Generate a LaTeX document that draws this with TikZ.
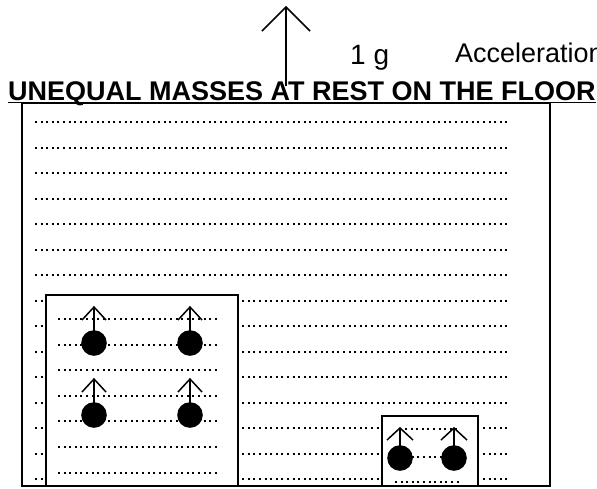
\documentclass[tikz,border=0pt]{standalone}
\usepackage{fontspec}
\setmainfont{Liberation Sans}
\begin{document}
\begin{tikzpicture}[x=1pt,y=-1pt,
  frame/.style={draw=black,line width=1.8pt},
  innerbox/.style={draw=black,fill=white,line width=1.6pt},
  dotrow/.style={draw=black,line width=2pt,dash pattern=on 2pt off 3.6pt},
  shaft/.style={draw=black,line width=1.5pt},
  mass/.style={fill=black},
  label/.style={inner sep=0pt,anchor=base west}]
\clip (0,0) rectangle (597,488);
\useasboundingbox (0,0) rectangle (597,488);

% acceleration arrow and its labels
\coordinate (atip) at (286,7);
\coordinate (abase) at (286,86);
\draw[shaft] (abase) -- (atip);
\draw[shaft] (262,31) -- (atip) -- (310,31);
\node[label,font=\fontsize{28}{32}\selectfont] (g) at (350,64) {1 g};
\node[label,font=\fontsize{27}{31}\selectfont] (acc) at (455,62) {Acceleration};

% title
\node[label,font=\fontsize{27}{30}\selectfont\bfseries] (title) at (8,100)
  {UNEQUAL MASSES AT REST ON THE FLOOR};
\draw[line width=1.6pt] ([yshift=-2.5pt]title.base west) -- ([yshift=-2.5pt]title.base east);

% ruled lines of the floor frame
\foreach \k in {0,...,14}
  \draw[dotrow] (35,{122+25.5*\k}) -- (510,{122+25.5*\k});

% large mass block
\fill[white] (46,295) rectangle (238,486);
\draw[innerbox] (46,486) -- (46,295) -- (238,295) -- (238,486);
\foreach \k in {0,...,6}
  \draw[dotrow] (58,{319+25.6*\k}) -- (217,{319+25.6*\k});
\foreach \x in {94,190}
  \foreach \y in {343,415} {
    \draw[shaft] (\x,\y-12) -- (\x,\y-36);
    \draw[shaft] (\x-12,\y-23) -- (\x,\y-36) -- (\x+12,\y-23);
    \fill[mass] (\x,\y) circle (12.8);
  }

% small mass block
\fill[white] (382,416) rectangle (478,486);
\draw[innerbox] (382,486) -- (382,416) -- (478,416) -- (478,486);
\draw[dotrow] (405,429) -- (458,429);
\draw[dotrow] (395,457) -- (462,457);
\draw[dotrow] (395,482) -- (462,482);
\foreach \x in {400,454} {
  \draw[shaft] (\x,446) -- (\x,428);
  \draw[shaft] (\x-13,440) -- (\x,428) -- (\x+13,440);
  \fill[mass] (\x,458) circle (12.8);
}

% floor frame
\draw[frame] (22,103) rectangle (550,486);
\end{tikzpicture}
\end{document}
